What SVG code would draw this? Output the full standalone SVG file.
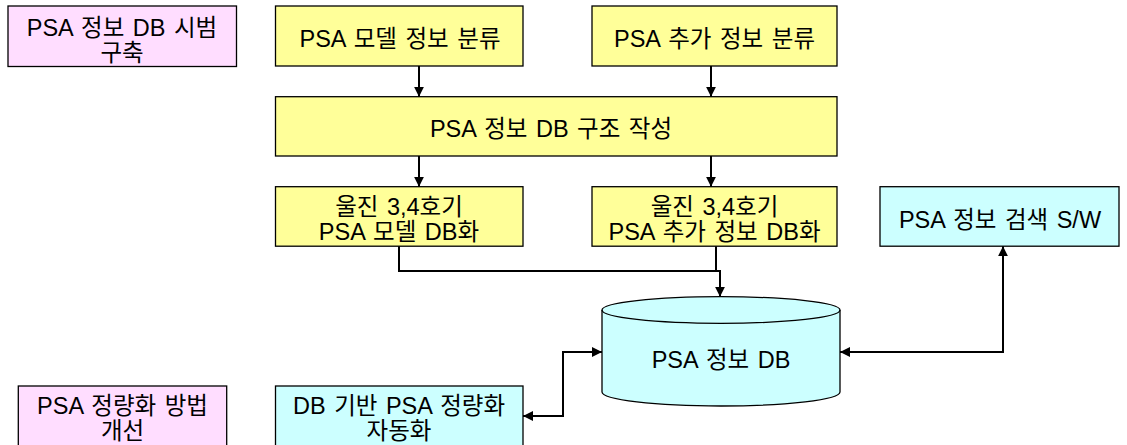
<svg xmlns="http://www.w3.org/2000/svg" width="1127" height="445" viewBox="0 0 1127 445">
  <style>
    .box { stroke: #000; stroke-width: 1.3; }
    .pink { fill: #FFDDFF; }
    .yellow { fill: #FFFF99; }
    .cyan { fill: #CCFFFF; }
    text { font-family: "Liberation Sans", "Noto Sans CJK KR", sans-serif; font-size: 23.5px; fill: #000; text-anchor: middle; word-spacing: 2px; }
    .conn { fill: none; stroke: #000; stroke-width: 2; }
  </style>
  <defs>
    <marker id="arrow" viewBox="0 0 10 10" refX="10" refY="5" markerWidth="10" markerHeight="10" markerUnits="userSpaceOnUse" orient="auto-start-reverse">
      <path d="M0,0 L10,5 L0,10 z" fill="#000"/>
    </marker>
  </defs>
  <rect width="1127" height="445" fill="#fff"/>

  <g id="pilot">
    <rect class="box pink" x="8" y="6" width="228.5" height="60.5"/>
    <text x="122" y="35.5">PSA 정보 DB 시범</text>
    <text x="122" y="61">구축</text>
  </g>
  <g id="model-classify">
    <rect class="box yellow" x="275.5" y="6" width="247.5" height="60"/>
    <text x="400" y="46.5">PSA 모델 정보 분류</text>
  </g>
  <g id="extra-classify">
    <rect class="box yellow" x="592" y="6" width="245" height="60"/>
    <text x="714.5" y="46.5">PSA 추가 정보 분류</text>
  </g>
  <g id="db-structure">
    <rect class="box yellow" x="275.5" y="96.7" width="561.5" height="59.3"/>
    <text x="551" y="136.5">PSA 정보 DB 구조 작성</text>
  </g>
  <g id="model-db">
    <rect class="box yellow" x="275.5" y="186.7" width="247.5" height="59.5"/>
    <text x="399" y="215">울진 3,4호기</text>
    <text x="399" y="240">PSA 모델 DB화</text>
  </g>
  <g id="extra-db">
    <rect class="box yellow" x="592" y="186.7" width="245" height="59.5"/>
    <text x="714.5" y="215">울진 3,4호기</text>
    <text x="714.5" y="240">PSA 추가 정보 DB화</text>
  </g>
  <g id="search-sw">
    <rect class="box cyan" x="880" y="186.7" width="239" height="59.5"/>
    <text x="1000" y="228">PSA 정보 검색 S/W</text>
  </g>
  <g id="psa-db">
    <path class="box cyan" d="M602,310 A119,13.3 0 0,1 840,310 L840,392 A119,14 0 0,1 602,392 Z"/>
    <path class="box" fill="none" d="M602,310 A119,13.3 0 0,0 840,310"/>
    <text x="721" y="368">PSA 정보 DB</text>
  </g>
  <g id="quant-method">
    <rect class="box pink" x="18.3" y="386" width="208.4" height="62"/>
    <text x="122.5" y="413.5">PSA 정량화 방법</text>
    <text x="122.5" y="438.5">개선</text>
  </g>
  <g id="quant-auto">
    <rect class="box cyan" x="275.5" y="386" width="247.5" height="62"/>
    <text x="399" y="413.5">DB 기반 PSA 정량화</text>
    <text x="399" y="438.5">자동화</text>
  </g>

  <g id="connectors">
    <path class="conn" d="M419,66 L419,96.7" marker-end="url(#arrow)"/>
    <path class="conn" d="M711,66 L711,96.7" marker-end="url(#arrow)"/>
    <path class="conn" d="M419,156 L419,186.7" marker-end="url(#arrow)"/>
    <path class="conn" d="M711,156 L711,186.7" marker-end="url(#arrow)"/>
    <path class="conn" d="M399,246.2 L399,271 L720,271 L720,296.7" marker-end="url(#arrow)"/>
    <path class="conn" d="M716,246.2 L716,271"/>
    <path class="conn" d="M602,352 L563,352 L563,416 L523,416" marker-start="url(#arrow)" marker-end="url(#arrow)"/>
    <path class="conn" d="M840,352 L1003,352 L1003,246.2" marker-start="url(#arrow)" marker-end="url(#arrow)"/>
  </g>
</svg>
